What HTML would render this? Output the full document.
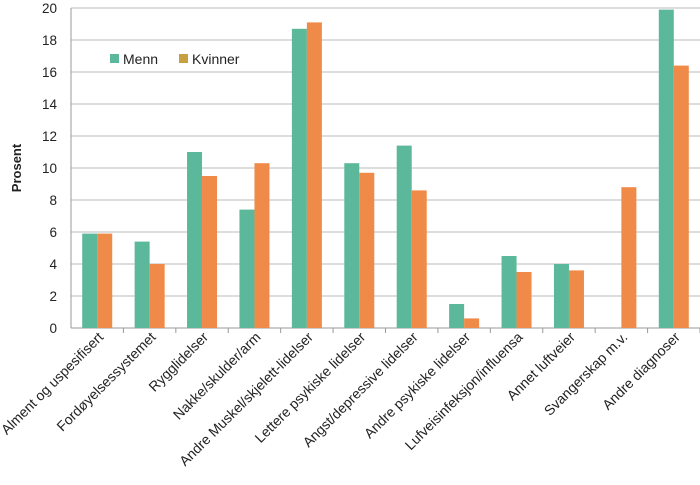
<!DOCTYPE html>
<html><head><meta charset="utf-8"><style>
body{margin:0;background:#fff;font-family:"Liberation Sans",sans-serif}
svg text{font-family:"Liberation Sans",sans-serif;fill:#222}
</style></head><body>
<svg id="c" width="700" height="480"></svg>
<script>
const categories=["Alment og uspesifisert","Fordøyelsessystemet","Rygglidelser","Nakke/skulder/arm","Andre Muskel/skjelett-lidelser","Lettere psykiske lidelser","Angst/depressive lidelser","Andre psykiske lidelser","Lufveisinfeksjon/influensa","Annet luftveier","Svangerskap m.v.","Andre diagnoser"];
const menn=[5.9,5.4,11.0,7.4,18.7,10.3,11.4,1.5,4.5,4.0,0,19.9];
const kvinner=[5.9,4.0,9.5,10.3,19.1,9.7,8.6,0.6,3.5,3.6,8.8,16.4];
const yTicks=[0,2,4,6,8,10,12,14,16,18,20];
const NS="http://www.w3.org/2000/svg",svg=document.getElementById('c');
const L=71,R=700,T=8,B=328,ymax=20;
const y=v=>B-(v/ymax)*(B-T);
const cw=(R-L)/categories.length;
const xc=i=>L+cw*(i+0.5);
function el(t,a){const e=document.createElementNS(NS,t);for(const k in a)e.setAttribute(k,a[k]);svg.appendChild(e);return e;}
yTicks.forEach(t=>{
 const g=el('line',{x1:L,x2:R,y1:y(t),y2:y(t),stroke:t===0?'#999':'#bbb','stroke-width':1});
 
 
 const tx=el('text',{x:L-14,y:y(t)+5,'text-anchor':'end','font-size':13.5});
 tx.textContent=t;
 
 
});
el('line',{x1:L,x2:L,y1:T,y2:B,stroke:'#999'});
const yt=el('text',{transform:'translate(21,168) rotate(-90)','text-anchor':'middle','font-size':13,'font-weight':'bold'});
yt.textContent='Prosent';


const bw=15;
categories.forEach((c,i)=>{
 el('line',{x1:L+cw*(i+1),x2:L+cw*(i+1),y1:B,y2:B+5,stroke:'#999'});
 const m=el('rect',{x:xc(i)-bw,y:y(menn[i]),width:bw,height:B-y(menn[i]),fill:'#5cb89a'});
 
 
 const k=el('rect',{x:xc(i),y:y(kvinner[i]),width:bw,height:B-y(kvinner[i]),fill:'#ef8a48'});
 
 
 const lb=el('text',{transform:`translate(${xc(i)+7},${B+10}) rotate(-45)`,'text-anchor':'end','font-size':14});
 lb.textContent=c;
 
 
});
const lg=[["Menn","#5cb89a",110],["Kvinner","#c9a040",179]];
lg.forEach(([n,col,x])=>{
 const r=el('rect',{x:x,y:54,width:9,height:9,fill:col});
 
 
 const t=el('text',{x:x+13,y:64,'font-size':14});
 t.textContent=n;
 
 
});
</script>
</body></html>
